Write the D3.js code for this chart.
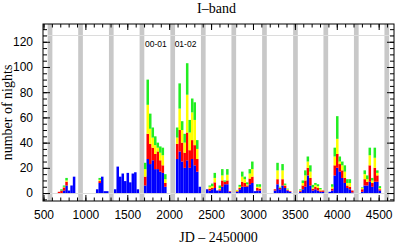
<!DOCTYPE html>
<html>
<head>
<meta charset="utf-8">
<script src="https://cdn.jsdelivr.net/npm/d3@7"></script>
<style>
  body { margin: 0; background: #fff; }
  svg { display: block; }
</style>
</head>
<body>
<div id="chart"></div>
<script>
// left edge (JD - 2450000) of each 30-day bin, season by season
const binStart = [
  670, 700, 730, 760, 790, 820, 850,
  1126, 1156, 1186, 1216, 1246,
  1341, 1371, 1401, 1431, 1461, 1491, 1521, 1551, 1581, 1611,
  1699, 1729, 1759, 1789, 1819, 1849, 1879, 1909, 1939,
  2080, 2110, 2140, 2170, 2200, 2230, 2260, 2290, 2320, 2350,
  2439, 2469, 2499, 2529, 2559, 2589, 2619, 2649, 2679, 2709,
  2797, 2827, 2857, 2887, 2917, 2947, 2977, 3007, 3037, 3067,
  3248, 3278, 3308, 3338, 3368, 3398, 3428,
  3550, 3580, 3610, 3640, 3670, 3700, 3730, 3760, 3790, 3820,
  3901, 3931, 3961, 3991, 4021, 4051, 4081, 4111, 4141, 4171,
  4289, 4319, 4349, 4379, 4409, 4439, 4469, 4499
];
const binDays = 30;

// nights per bin, stacked bottom to top
const blue = [
  0, 0, 2, 6, 2, 6, 13,
  3, 8, 13, 1.5, 1.5,
  3, 21, 13, 15.5, 9.5, 16, 8.5, 15.5, 16.5, 3,
  6, 27, 23, 26, 19, 19, 17, 16, 5,
  27, 33, 25, 20, 26, 20, 27, 22, 17, 5,
  3, 2, 3, 4, 2, 2, 5, 7, 7, 1,
  1, 3, 5, 5, 5, 7, 8, 1.5, 2, 2,
  2, 7, 3, 6, 4, 2, 1,
  1, 3, 5, 14, 6, 2, 3, 2, 1, 1,
  1, 2, 14, 20, 17, 12, 8, 4, 3, 0.5,
  1, 6, 6, 9, 5, 9, 9, 2
];
const red = [
  1, 2, 2.5, 3, 0, 0, 0,
  0, 1.5, 0, 0, 0,
  0, 0, 0, 0, 0, 0, 0, 0, 0, 0,
  7, 20, 16, 10, 12, 14, 9, 6, 3,
  12, 17, 15, 12, 22, 14, 15, 16, 10, 0,
  0, 1.5, 1, 4.5, 0, 1, 5, 2, 3, 0.5,
  0.5, 1, 4, 3, 1, 4.5, 5, 0, 2, 1.5,
  1, 4, 1, 5, 2, 0.5, 0.5,
  1, 3, 5, 6, 6, 1.5, 2, 2, 1, 1,
  0, 1.5, 8, 11, 6, 6, 4, 2, 2, 1.5,
  2, 5, 3, 13, 3, 11, 5, 1
];
const yellow = [
  0, 0, 0.5, 1, 0, 0, 0,
  0, 1, 0, 0, 0,
  0, 0, 0, 0, 0, 0, 0, 0, 0, 0,
  6, 23, 12, 8, 7, 3, 6, 8, 3,
  5, 17, 10, 8, 30, 14, 22, 20, 8, 0,
  0, 1.5, 1.5, 3.5, 0, 1, 4, 0, 4.5, 0,
  1, 1, 4, 3, 1, 4, 6, 0, 1, 1.5,
  0, 7, 0.5, 7, 0.5, 0.5, 0,
  0.5, 2, 4, 5, 5, 1, 1.5, 1.5, 1, 0,
  0, 1.5, 7, 12, 2, 4, 5, 2, 3, 0,
  1, 4, 2, 8, 2, 8, 2, 1
];
const green = [
  0, 1, 1, 2, 0, 0, 0,
  0, 1.5, 0, 0, 0,
  0, 0, 0, 0, 0, 0, 0, 0, 0, 0,
  5, 20, 12, 8, 7, 4, 5, 6, 4,
  8, 20, 7, 7, 25, 10, 11, 14, 7, 0,
  0, 1, 2, 4, 0, 2, 5, 1, 4.5, 0,
  0, 1.5, 4, 2, 1.5, 3.5, 6, 0, 2, 2,
  0, 6, 0.5, 5, 1, 0.5, 0,
  0.5, 2, 4, 4, 5, 2, 1.5, 1.5, 1, 0,
  0, 2, 7, 18, 4, 3, 5, 3, 3, 0,
  0.5, 3, 3, 6, 2, 8, 2, 1.5
];

// yearly gaps (sun conjunction), centre JD
const gapCenter = [578, 942, 1309, 1675, 2042, 2407, 2771, 3137, 3507, 3869, 4233, 4597];
const gapDays = 56;

const xMajor = [500, 1000, 1500, 2000, 2500, 3000, 3500, 4000, 4500];
const yMajor = [0, 20, 40, 60, 80, 100, 120];
const seasonText = ['00-01', '01-02'];
const seasonJD = [1842, 2195];

const w = 398, h = 244;
const plot = {left: 43, right: 394, top: 24, bottom: 201};
const colors = {blue: '#0000ff', red: '#ff0000', yellow: '#ffff00', green: '#22ee22'};
const keys = ['blue', 'red', 'yellow', 'green'];

const rows = binStart.map((jd, i) => ({
  jd: jd, blue: blue[i], red: red[i], yellow: yellow[i], green: green[i]
}));

const x = d3.scaleLinear().domain([494, 4683]).range([plot.left, plot.right]);
const y = d3.scaleLinear().domain([-6.3, 134.1]).range([plot.bottom, plot.top]);

const svg = d3.select('#chart').append('svg')
  .attr('width', w)
  .attr('height', h);

// gray gap bands
svg.append('g').selectAll('rect')
  .data(gapCenter)
  .enter()
  .append('rect')
  .attr('x', d => x(d - gapDays / 2))
  .attr('width', d => x(d + gapDays / 2) - x(d - gapDays / 2))
  .attr('y', plot.top)
  .attr('height', plot.bottom - plot.top)
  .style('fill', '#c8c8c8');

// light reference lines
svg.append('g').selectAll('line')
  .data([0, 125])
  .enter()
  .append('line')
  .attr('x1', plot.left)
  .attr('x2', plot.right)
  .attr('y1', d => Math.round(y(d)) + 0.5)
  .attr('y2', d => Math.round(y(d)) + 0.5)
  .style('stroke', '#dcdcdc')
  .style('stroke-width', 1);

// stacked bars
const stacked = d3.stack().keys(keys)(rows);
svg.append('g').selectAll('g')
  .data(stacked)
  .enter()
  .append('g')
  .style('fill', d => colors[d.key])
  .selectAll('rect')
  .data(d => d)
  .enter()
  .append('rect')
  .attr('x', d => x(d.data.jd))
  .attr('width', d => x(d.data.jd + binDays) - x(d.data.jd))
  .attr('y', d => y(d[1]))
  .attr('height', d => y(d[0]) - y(d[1]));

// axes, ticks pointing inward
const xMinor = d3.range(500, 4700, 100);
const yMinor = d3.range(-5, 135, 5);
const font = '"Liberation Sans", Arial, sans-serif';

function clean(g) {
  g.select('.domain').remove();
  g.selectAll('line').style('stroke', '#000');
  g.selectAll('text').style('font-family', font).style('font-size', '12px').style('fill', '#000');
}

svg.append('g')
  .attr('transform', `translate(0,${plot.bottom})`)
  .call(d3.axisBottom(x).tickValues(xMinor).tickSize(-3.5).tickFormat(''))
  .call(clean);
svg.append('g')
  .attr('transform', `translate(0,${plot.bottom})`)
  .call(d3.axisBottom(x).tickValues(xMajor).tickSize(-6).tickPadding(9).tickFormat(d3.format('d')))
  .call(clean);
svg.append('g')
  .attr('transform', `translate(0,${plot.top})`)
  .call(d3.axisTop(x).tickValues(xMinor).tickSize(-3.5).tickFormat(''))
  .call(clean);
svg.append('g')
  .attr('transform', `translate(0,${plot.top})`)
  .call(d3.axisTop(x).tickValues(xMajor).tickSize(-6).tickFormat(''))
  .call(clean);

svg.append('g')
  .attr('transform', `translate(${plot.left},0)`)
  .call(d3.axisLeft(y).tickValues(yMinor).tickSize(-4).tickFormat(''))
  .call(clean);
svg.append('g')
  .attr('transform', `translate(${plot.left},0)`)
  .call(d3.axisLeft(y).tickValues(yMajor).tickSize(-7).tickPadding(10))
  .call(clean);
svg.append('g')
  .attr('transform', `translate(${plot.right},0)`)
  .call(d3.axisRight(y).tickValues(yMinor).tickSize(-4).tickFormat(''))
  .call(clean);
svg.append('g')
  .attr('transform', `translate(${plot.right},0)`)
  .call(d3.axisRight(y).tickValues(yMajor).tickSize(-7).tickFormat(''))
  .call(clean);

// frame
svg.append('rect')
  .attr('x', plot.left)
  .attr('y', plot.top)
  .attr('width', plot.right - plot.left)
  .attr('height', plot.bottom - plot.top)
  .style('fill', 'none')
  .style('stroke', '#000')
  .style('stroke-width', 1);

// season labels
svg.append('g').selectAll('text')
  .data(seasonText)
  .enter()
  .append('text')
  .attr('x', (d, i) => x(seasonJD[i]))
  .attr('y', y(115.5))
  .attr('text-anchor', 'middle')
  .style('font-family', font)
  .style('font-size', '8.5px')
  .text(d => d);

const serif = '"Liberation Serif", "Times New Roman", serif';

svg.append('text')
  .attr('x', 216.5)
  .attr('y', 13)
  .attr('text-anchor', 'middle')
  .style('font-family', serif)
  .style('font-size', '14px')
  .text('I–band');

svg.append('text')
  .attr('x', 218.5)
  .attr('y', 242)
  .attr('text-anchor', 'middle')
  .style('font-family', serif)
  .style('font-size', '14px')
  .text('JD – 2450000');

svg.append('text')
  .attr('transform', 'rotate(-90)')
  .attr('x', -(plot.top + plot.bottom) / 2)
  .attr('y', 11.5)
  .attr('text-anchor', 'middle')
  .style('font-family', serif)
  .style('font-size', '14px')
  .text('number of nights');
</script>
</body>
</html>
